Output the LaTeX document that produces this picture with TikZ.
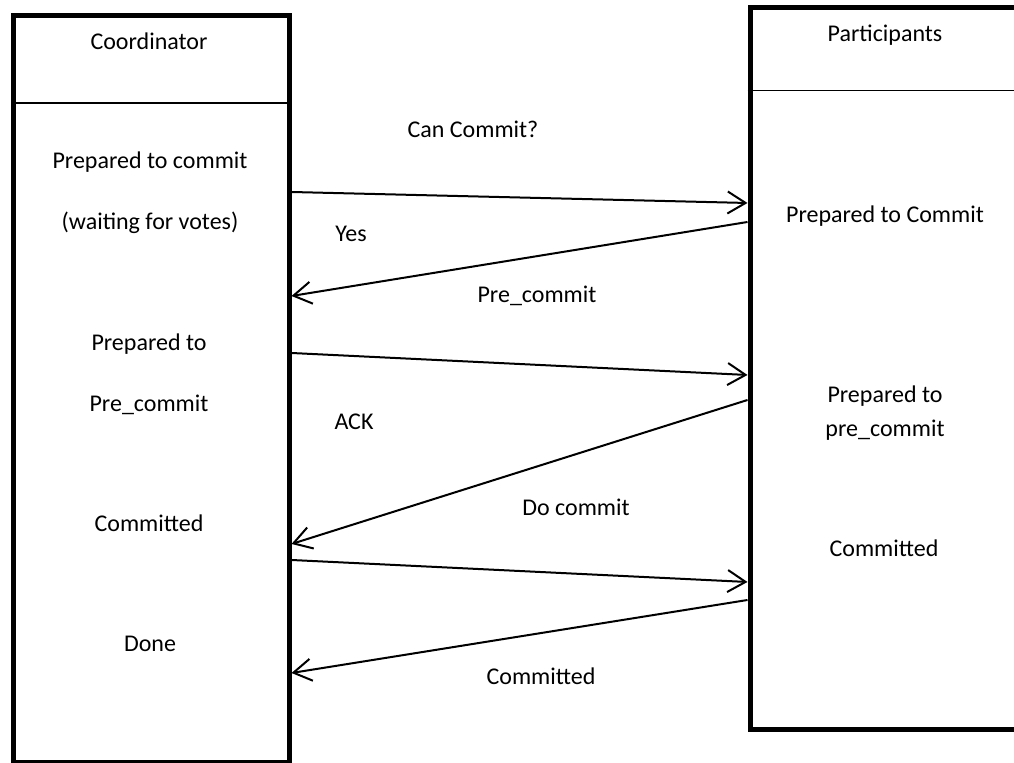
\documentclass[tikz,border=0pt]{standalone}
\usepackage{fontspec}
\setmainfont{Carlito}
\usetikzlibrary{arrows.meta}
\tikzstyle{lane} = [rectangle, draw=black, line width=2.5pt, anchor=north west]
\tikzstyle{divider} = [draw=black, line width=0.8pt]
\tikzstyle{state} = [inner sep=0pt, anchor=base, font=\fontsize{12}{14}\selectfont]
\tikzstyle{msg} = [-{Straight Barb[length=9pt,width=11pt]}, line width=1pt]

\begin{document}
\begin{tikzpicture}[x=0.5pt, y=-0.5pt]
\useasboundingbox (0,0) rectangle (1014,763);

% Define lanes
\node[lane, minimum width=137.75pt, minimum height=373.25pt] (coord) at (11,13.5) {};
\node[lane, minimum width=136.75pt, minimum height=360.75pt] (part) at (747.5,5.5) {};
\draw[divider] (coord.west |- 0,103) -- (coord.east |- 0,103);
\draw[divider] (part.west |- 0,90.5) -- (part.east |- 0,90.5);

% Coordinator states
\node[state] (ctitle) at (149,50)  {Coordinator};
\node[state] (cprep)  at (150,169) {Prepared to commit};
\node[state] (cwait)  at (150,230) {(waiting for votes)};
\node[state] (cpre)   at (149,351) {Prepared to};
\node[state] (cprec)  at (149,412) {Pre\_commit};
\node[state] (ccom)   at (149,532) {Committed};
\node[state] (cdone)  at (150,652) {Done};

% Participant states
\node[state] (ptitle) at (885,42)  {Participants};
\node[state] (pprep)  at (885,223) {Prepared to Commit};
\node[state] (ppre)   at (885,403) {Prepared to};
\node[state] (pprec)  at (885,437) {pre\_commit};
\node[state] (pcom)   at (884,557) {Committed};

% Messages
\node[state] (mcan)  at (473,138) {Can Commit?};
\node[state] (myes)  at (351,242) {Yes};
\node[state] (mpre)  at (537,303) {Pre\_commit};
\node[state] (mack)  at (354,430) {ACK};
\node[state] (mdo)   at (576,516) {Do commit};
\node[state] (mcom)  at (541,685) {Committed};

% Edges
\draw[msg] (coord.east |- 0,192) -- (part.west |- 0,203);
\draw[msg] (part.west |- 0,222)  -- (coord.east |- 0,296);
\draw[msg] (coord.east |- 0,353) -- (part.west |- 0,375);
\draw[msg] (part.west |- 0,400)  -- (coord.east |- 0,544);
\draw[msg] (coord.east |- 0,560) -- (part.west |- 0,582);
\draw[msg] (part.west |- 0,600)  -- (coord.east |- 0,673);
\end{tikzpicture}
\end{document}
